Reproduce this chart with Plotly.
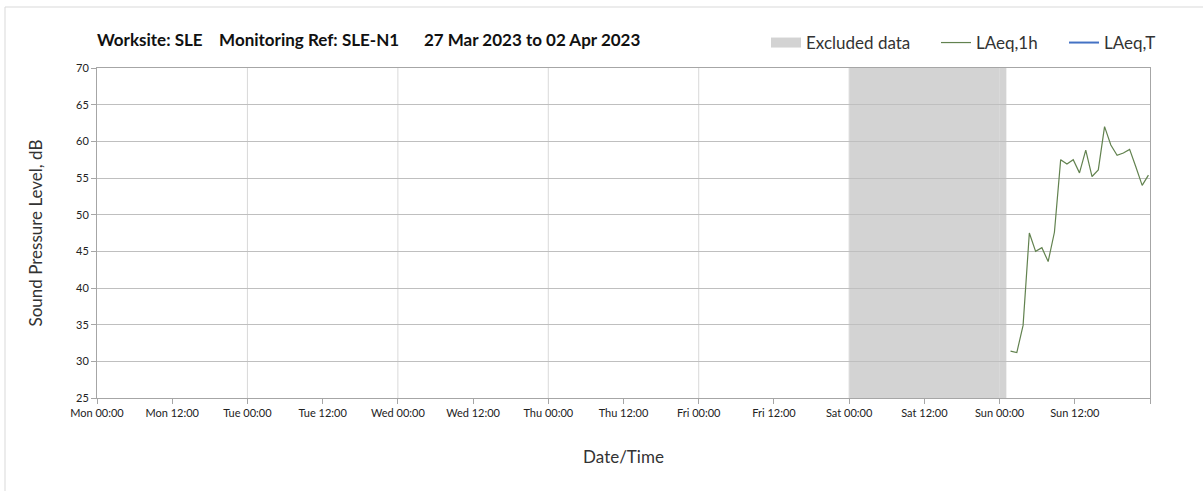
import plotly.graph_objects as go

# ---- data ----
times = [
    "2023-04-02 01:45", "2023-04-02 02:45", "2023-04-02 03:45", "2023-04-02 04:45",
    "2023-04-02 05:45", "2023-04-02 06:45", "2023-04-02 07:45", "2023-04-02 08:45",
    "2023-04-02 09:45", "2023-04-02 10:45", "2023-04-02 11:45", "2023-04-02 12:45",
    "2023-04-02 13:45", "2023-04-02 14:45", "2023-04-02 15:45", "2023-04-02 16:45",
    "2023-04-02 17:45", "2023-04-02 18:45", "2023-04-02 19:45", "2023-04-02 20:45",
    "2023-04-02 21:45", "2023-04-02 22:45", "2023-04-02 23:45",
]
laeq_1h = [31.4, 31.2, 34.9, 47.5, 45.0, 45.5, 43.6, 47.6, 57.5, 56.9, 57.5, 55.7,
           58.8, 55.2, 56.1, 62.0, 59.5, 58.1, 58.4, 58.9, 56.5, 54.0, 55.4]

excluded_start = "2023-04-01 00:00"
excluded_end = "2023-04-02 01:05"

tick_vals = [
    "2023-03-27 00:00", "2023-03-27 12:00", "2023-03-28 00:00", "2023-03-28 12:00",
    "2023-03-29 00:00", "2023-03-29 12:00", "2023-03-30 00:00", "2023-03-30 12:00",
    "2023-03-31 00:00", "2023-03-31 12:00", "2023-04-01 00:00", "2023-04-01 12:00",
    "2023-04-02 00:00", "2023-04-02 12:00", "2023-04-03 00:00",
]
tick_text = [
    "Mon 00:00", "Mon 12:00", "Tue 00:00", "Tue 12:00", "Wed 00:00", "Wed 12:00",
    "Thu 00:00", "Thu 12:00", "Fri 00:00", "Fri 12:00", "Sat 00:00", "Sat 12:00",
    "Sun 00:00", "Sun 12:00", "",
]
day_lines = ["2023-03-28", "2023-03-29", "2023-03-30", "2023-03-31", "2023-04-01", "2023-04-02"]
x_range = ["2023-03-27 00:00", "2023-04-03 00:00"]

title_text = ("Worksite: SLE&nbsp;&nbsp;&nbsp;&nbsp;Monitoring Ref: SLE-N1"
              "&nbsp;&nbsp;&nbsp;&nbsp;&nbsp;&nbsp;27 Mar 2023 to 02 Apr 2023")

FONT = "Lato"
W, H = 1203, 491
L, R, T, B = 97, 53, 68, 93
pw, ph = W - L - R, H - T - B


def px_x(p):
    return (p - L) / pw


fig = go.Figure()

# excluded region
fig.add_shape(type="rect", xref="x", yref="paper", x0=excluded_start, x1=excluded_end,
              y0=0, y1=1, fillcolor="#d3d3d3", line_width=0, layer="below")

# legend entry for the excluded region (thick grey swatch)
fig.add_trace(go.Scatter(
    x=[None], y=[None], mode="lines", name="Excluded data", legend="legend",
    line=dict(color="#d3d3d3", width=13),
))
fig.add_trace(go.Scatter(
    x=times, y=laeq_1h, mode="lines", name="LAeq,1h", legend="legend2",
    line=dict(color="#62824f", width=1.2),
))
fig.add_trace(go.Scatter(
    x=[None], y=[None], mode="lines", name="LAeq,T", legend="legend3",
    line=dict(color="#4472c4", width=2),
))

# vertical day gridlines
for d in day_lines:
    fig.add_shape(type="line", xref="x", yref="paper", x0=d, x1=d, y0=0, y1=1,
                  line=dict(color="#d9d9d9", width=1), layer="below")

# outer frame (left and top)
fx = px_x(5)
fy = (H - B - 7) / ph
fig.add_shape(type="line", xref="paper", yref="paper", x0=fx, x1=fx, y0=fy, y1=-2,
              line=dict(color="#d9d9d9", width=1))
fig.add_shape(type="line", xref="paper", yref="paper", x0=fx, x1=2, y0=fy, y1=fy,
              line=dict(color="#d9d9d9", width=1))

leg_common = dict(orientation="h", xanchor="left", yref="container", y=1 - 43 / H,
                  yanchor="middle", font=dict(family=FONT, size=17, color="#333333"),
                  bgcolor="rgba(0,0,0,0)", borderwidth=0)

fig.update_layout(
    width=W, height=H,
    margin=dict(l=L, r=R, t=T, b=B, autoexpand=False),
    paper_bgcolor="white", plot_bgcolor="rgba(0,0,0,0)",
    font=dict(family=FONT, color="#222222"),
    title=dict(text="<b>" + title_text + "</b>", xref="paper", x=0, xanchor="left",
               yref="container", y=1 - 40 / H, yanchor="middle",
               font=dict(family=FONT, size=17, color="#111111")),
    legend=dict(x=px_x(766), **leg_common),
    legend2=dict(x=px_x(936), **leg_common),
    legend3=dict(x=px_x(1064), **leg_common),
    showlegend=True,
)

fig.update_xaxes(
    type="date", range=x_range, tickvals=tick_vals, ticktext=tick_text,
    showgrid=False, zeroline=False,
    showline=True, linecolor="#a6a6a6", linewidth=1, mirror=True,
    ticks="outside", ticklen=5, tickcolor="#a6a6a6",
    tickfont=dict(family=FONT, size=11, color="#222222"),
    title=dict(text="Date/Time", font=dict(family=FONT, size=17, color="#333333"), standoff=32),
)
fig.update_yaxes(
    range=[25, 70], dtick=5, tick0=25,
    showgrid=True, gridcolor="#bfbfbf", gridwidth=1, zeroline=False,
    showline=True, linecolor="#a6a6a6", linewidth=1, mirror=True,
    ticks="outside", ticklen=5, tickcolor="#a6a6a6",
    tickfont=dict(family=FONT, size=11, color="#222222"),
    title=dict(text="Sound Pressure Level, dB", font=dict(family=FONT, size=17, color="#333333"),
               standoff=29),
)

fig.write_html("out.html", config={"displayModeBar": False},
               post_script="document.body.style.margin='0';document.body.style.padding='0';")
